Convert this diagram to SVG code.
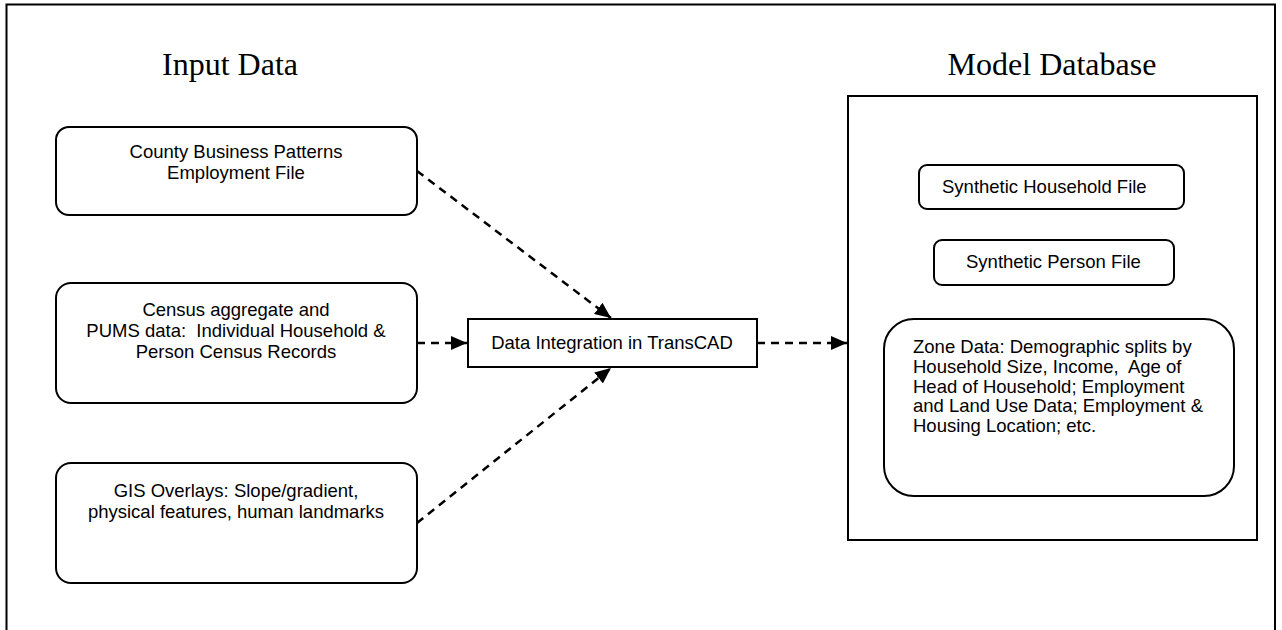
<svg xmlns="http://www.w3.org/2000/svg" width="1282" height="630" viewBox="0 0 1282 630">
<defs>
<marker id="ah" viewBox="0 0 16 14" refX="16" refY="7" markerWidth="16" markerHeight="14" markerUnits="userSpaceOnUse" orient="auto">
<path d="M0,0 L16,7 L0,14 Z" fill="#000"/>
</marker>
<style>
.box{fill:#fff;stroke:#000;stroke-width:2}
.t{font-family:"Liberation Sans",Arial,sans-serif;font-size:18.5px;fill:#000}
.c{text-anchor:middle}
.title{font-family:"Liberation Serif","Times New Roman",serif;font-size:32px;fill:#000;text-anchor:middle}
.conn{fill:none;stroke:#000;stroke-width:2.5;stroke-dasharray:8 6;marker-end:url(#ah)}
</style>
</defs>
<rect x="0" y="0" width="1282" height="630" fill="#fff"/>
<path d="M6.5,640 V4.5 H1275 V640" fill="none" stroke="#000" stroke-width="2"/>
<text class="title" x="230" y="75">Input Data</text>
<text class="title" x="1052" y="75">Model Database</text>

<g id="cbp">
<rect class="box" x="56" y="127" width="361" height="88" rx="13"/>
<text class="t c" x="236" y="158">County Business Patterns</text>
<text class="t c" x="236" y="179">Employment File</text>
</g>
<g id="census">
<rect class="box" x="56" y="283" width="361" height="120" rx="15"/>
<text class="t c" x="236" y="316">Census aggregate and</text>
<text class="t c" x="236" y="337" xml:space="preserve">PUMS data:  Individual Household &amp;</text>
<text class="t c" x="236" y="358">Person Census Records</text>
</g>
<g id="gis">
<rect class="box" x="56" y="463" width="361" height="120" rx="15"/>
<text class="t c" x="236" y="497">GIS Overlays: Slope/gradient,</text>
<text class="t c" x="236" y="518">physical features, human landmarks</text>
</g>
<g id="integration">
<rect class="box" x="468" y="319" width="289" height="48"/>
<text class="t c" x="612" y="349">Data Integration in TransCAD</text>
</g>
<g id="modeldb">
<rect class="box" x="848" y="96" width="409" height="444"/>
</g>
<g id="household">
<rect class="box" x="919" y="165" width="265" height="44" rx="8"/>
<text class="t" x="942" y="193">Synthetic Household File</text>
</g>
<g id="person">
<rect class="box" x="934" y="240" width="240" height="45" rx="8"/>
<text class="t" x="966" y="268">Synthetic Person File</text>
</g>
<g id="zone">
<rect class="box" x="884" y="319" width="350" height="177" rx="30"/>
<text class="t" x="913" y="353">Zone Data: Demographic splits by</text>
<text class="t" x="913" y="373" xml:space="preserve">Household Size, Income,  Age of</text>
<text class="t" x="913" y="393">Head of Household; Employment</text>
<text class="t" x="913" y="412">and Land Use Data; Employment &amp;</text>
<text class="t" x="913" y="432">Housing Location; etc.</text>
</g>
<g id="connectors">
<path class="conn" d="M417,171 L611,318"/>
<path class="conn" d="M417,343 L467,343"/>
<path class="conn" d="M417,523 L611,368"/>
<path class="conn" d="M757,343 L847,343"/>
</g>
</svg>
